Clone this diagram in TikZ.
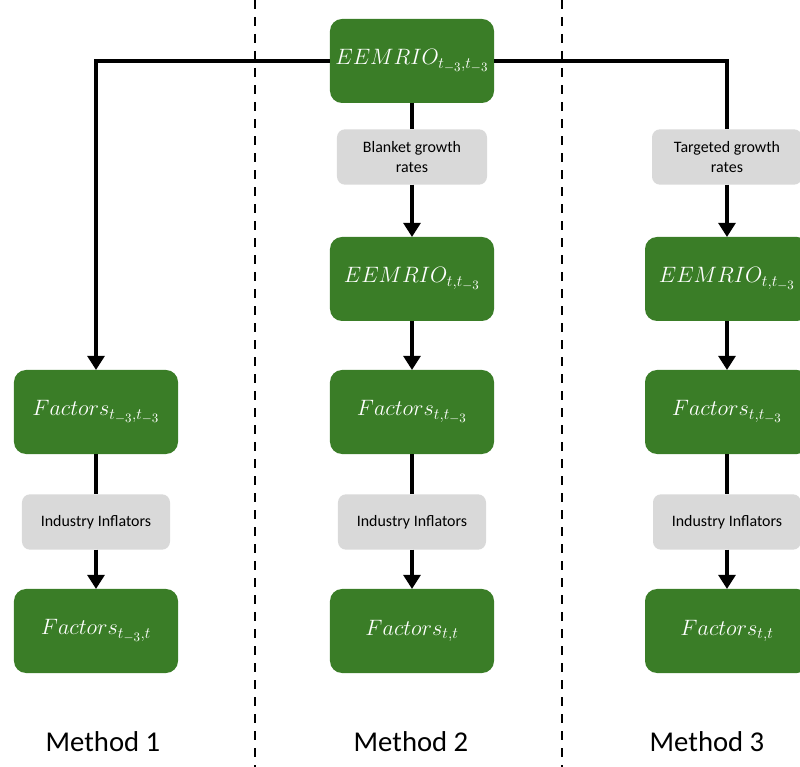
\documentclass[tikz,border=0pt]{standalone}
\usepackage{fix-cm}
\usepackage{fontspec}
\setmainfont{Carlito}
\usetikzlibrary{arrows.meta}
\DeclareMathSizes{19}{19}{13.5}{11}
\definecolor{boxgreen}{RGB}{58,125,39}
\definecolor{boxgray}{RGB}{217,217,217}
\newcommand{\lag}{t_{-3}}
\tikzset{
  greenbox/.style={fill=boxgreen,rounded corners=0.36cm,minimum width=4.92cm,minimum height=2.52cm,
    inner xsep=0pt,outer sep=0pt,text=white,font=\fontsize{19}{22}\selectfont},
  graybox/.style={fill=boxgray,rounded corners=0.24cm,minimum width=4.46cm,minimum height=1.66cm,
    outer sep=0pt,align=center,font=\fontsize{13.6}{16.5}\selectfont},
  link/.style={line width=0.12cm},
  flow/.style={link,-{Triangle[length=0.42cm,width=0.5cm]}},
  methodlbl/.style={font=\fontsize{24.5}{28}\selectfont}
}
\begin{document}
\begin{tikzpicture}[x=0.03cm,y=-0.03cm]
  % frame 800 x 767 px
  \useasboundingbox (0,0) rectangle (800,767);
  \clip (0,0) rectangle (800,767);
  % column centres and rows
  \def\cA{96}\def\cB{412}\def\cC{727}
  \def\rTop{61}\def\rGr{157}\def\rEe{279}\def\rFa{412}\def\rIn{522}\def\rFt{631}
  % separators
  \draw[line width=0.06cm,dash pattern=on 0.27cm off 0.24cm] (255,0)--(255,767);
  \draw[line width=0.06cm,dash pattern=on 0.27cm off 0.24cm] (562,0)--(562,767);
  % source table
  \node[greenbox] (top) at (\cB,\rTop) {$EEMRIO_{\lag,\lag}$};
  % Method 1
  \node[greenbox] (fa1) at (\cA,\rFa) {$Factors_{\lag,\lag}$};
  \node[graybox,minimum width=4.44cm] (in1) at (\cA,\rIn) {Industry Inflators};
  \node[greenbox] (ft1) at (\cA,\rFt) {$Factors_{\lag,t}$};
  % Method 2
  \node[graybox,minimum width=4.5cm] (gr2) at (\cB,\rGr) {Blanket growth\\rates};
  \node[greenbox] (ee2) at (\cB,\rEe) {$EEMRIO_{t,\lag}$};
  \node[greenbox] (fa2) at (\cB,\rFa) {$Factors_{t,\lag}$};
  \node[graybox,minimum width=4.44cm] (in2) at (\cB,\rIn) {Industry Inflators};
  \node[greenbox] (ft2) at (\cB,\rFt) {$Factors_{t,t}$};
  % Method 3
  \node[graybox,minimum width=4.5cm] (gr3) at (\cC,\rGr) {Targeted growth\\rates};
  \node[greenbox] (ee3) at (\cC,\rEe) {$EEMRIO_{t,\lag}$};
  \node[greenbox] (fa3) at (\cC,\rFa) {$Factors_{t,\lag}$};
  \node[graybox,minimum width=4.44cm] (in3) at (\cC,\rIn) {Industry Inflators};
  \node[greenbox] (ft3) at (\cC,\rFt) {$Factors_{t,t}$};
  % connectors
  \draw[flow] (top.west) -| (fa1.north);
  \draw[link] (top.east) -| (gr3.north);
  \draw[link] (top.south) -- (gr2.north);
  \draw[link] (fa1.south) -- (in1.north);
  \draw[flow] (in1.south) -- (ft1.north);
  \draw[flow] (gr2.south) -- (ee2.north);
  \draw[flow] (ee2.south) -- (fa2.north);
  \draw[link] (fa2.south) -- (in2.north);
  \draw[flow] (in2.south) -- (ft2.north);
  \draw[flow] (gr3.south) -- (ee3.north);
  \draw[flow] (ee3.south) -- (fa3.north);
  \draw[link] (fa3.south) -- (in3.north);
  \draw[flow] (in3.south) -- (ft3.north);
  % labels
  \node[methodlbl] (m1) at (103,742) {Method 1};
  \node[methodlbl] (m2) at (411,742) {Method 2};
  \node[methodlbl] (m3) at (707,742) {Method 3};
\end{tikzpicture}
\end{document}
